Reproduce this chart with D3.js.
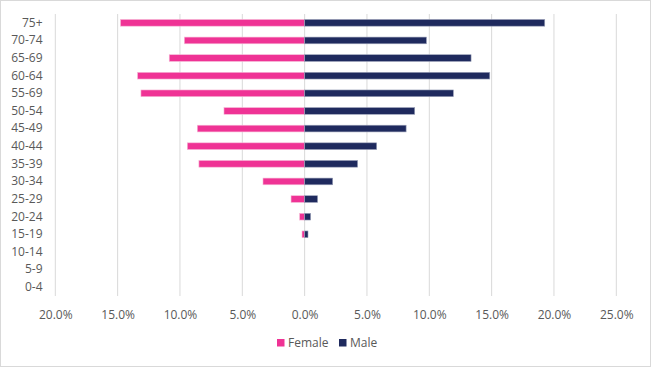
<!DOCTYPE html>
<html><head><meta charset="utf-8">
<script src="https://cdn.jsdelivr.net/npm/d3@7"></script>
<style>
html,body{margin:0;padding:0;background:#fff;}
svg{display:block;font-family:"Open Sans","Noto Sans",sans-serif;}
</style></head><body>
<script>
const categories = ["75+","70-74","65-69","60-64","55-69","50-54","45-49","40-44","35-39","30-34","25-29","20-24","15-19","10-14","5-9","0-4"];
const female = [14.77,9.65,10.86,13.4,13.13,6.47,8.61,9.41,8.48,3.34,1.09,0.4,0.21,0,0,0];
const male = [19.26,9.77,13.35,14.85,11.93,8.83,8.14,5.78,4.25,2.25,1.04,0.48,0.27,0,0,0];
const tickValues = [-20,-15,-10,-5,0,5,10,15,20,25];
const seriesNames = ["Female","Male"];
const colors = ["#EF3395","#1F2A5E"];

const W=651,H=367;
const svg=d3.select("body").append("svg").attr("width",W).attr("height",H);
svg.append("rect").attr("x",0.5).attr("y",0.5).attr("width",W-1).attr("height",H-1)
  .attr("fill","#fff").attr("stroke","#d9d9d9");

const pL=55.3,pR=616.3,pT=14,pB=296;
const x=d3.scaleLinear().domain([-20,25]).range([pL,pR]);
const y=d3.scaleBand().domain(categories).range([pT,pB]).paddingInner(0.62).paddingOuter(0.31);

svg.append("g").selectAll("line").data(tickValues).join("line")
  .attr("x1",d=>x(d)).attr("x2",d=>x(d)).attr("y1",pT).attr("y2",pB)
  .attr("stroke","#d9d9d9").attr("stroke-width",1);

const xa=d3.axisBottom(x).tickValues(tickValues).tickSize(0).tickFormat(d=>Math.abs(d).toFixed(1)+"%");
const gx=svg.append("g").attr("transform",`translate(0,${pB+11})`).call(xa);
gx.select(".domain").remove();
gx.selectAll("text").attr("fill","#595959").style("font-size","12px").style("font-family","'Open Sans',sans-serif");

const ya=d3.axisLeft(y).tickSize(0).tickPadding(0);
const gy=svg.append("g").attr("transform",`translate(42.5,0)`).call(ya);
gy.select(".domain").remove();
gy.selectAll("text").attr("fill","#595959").style("font-size","12px").style("font-family","'Open Sans',sans-serif");

const data=categories.map((c,i)=>({c,f:female[i],m:male[i]}));
const g=svg.append("g");
g.selectAll("rect.f").data(data.filter(d=>d.f>0)).join("rect").attr("class","f")
  .attr("x",d=>x(-d.f)).attr("width",d=>x(0)-x(-d.f))
  .attr("y",d=>y(d.c)).attr("height",y.bandwidth())
  .attr("fill",colors[0]).attr("stroke","#f6b8d6").attr("stroke-width",0.6);
g.selectAll("rect.m").data(data.filter(d=>d.m>0)).join("rect").attr("class","m")
  .attr("x",x(0)).attr("width",d=>x(d.m)-x(0))
  .attr("y",d=>y(d.c)).attr("height",y.bandwidth())
  .attr("fill",colors[1]).attr("stroke","#9aa0b8").attr("stroke-width",0.6);

const lg=svg.append("g").attr("transform","translate(0,343)");
const items=[{n:seriesNames[0],c:colors[0],x:277},{n:seriesNames[1],c:colors[1],x:339}];
items.forEach(it=>{
  lg.append("rect").attr("x",it.x).attr("y",-4).attr("width",7.5).attr("height",7.5).attr("fill",it.c);
  lg.append("text").attr("x",it.x+11).attr("y",0).attr("dy","0.35em").attr("fill","#595959")
    .style("font-size","12px").text(it.n);
});
</script>
</body></html>
